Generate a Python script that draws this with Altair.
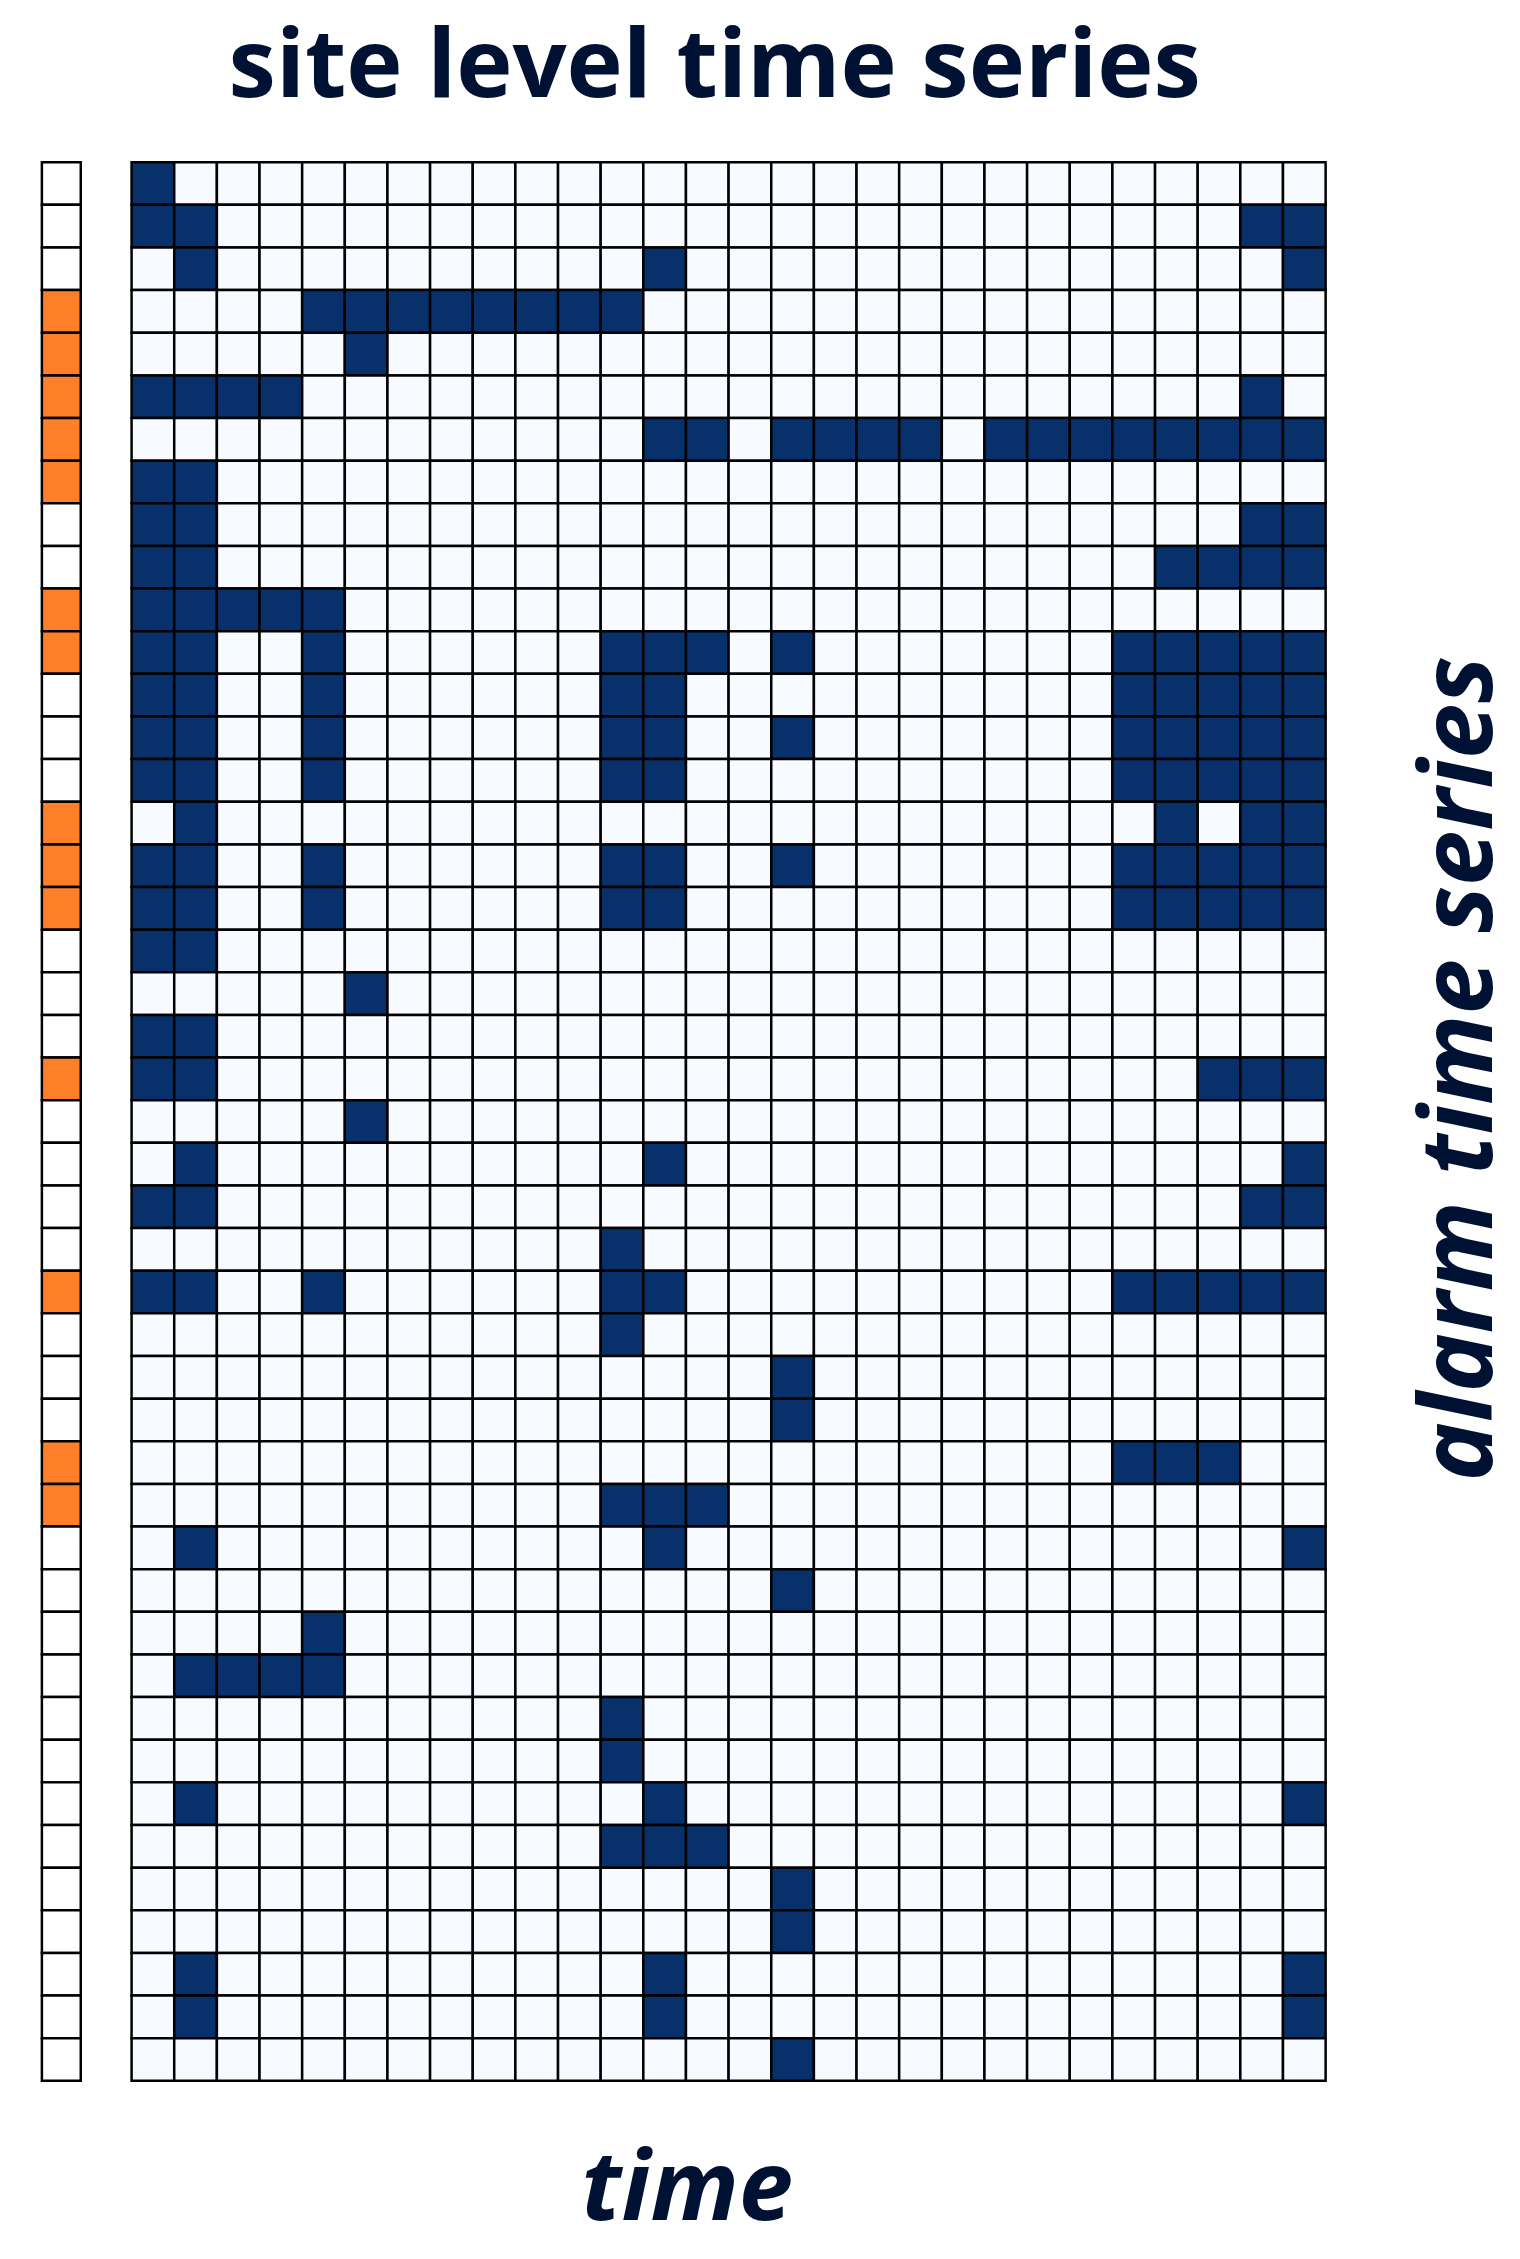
import altair as alt
import pandas as pd

N_ROWS = 45
N_COLS = 28

# active (dark) cells in each row of the site-level grid, by column index
ON_CELLS = [
    [0],
    [0, 1, 26, 27],
    [1, 12, 27],
    [4, 5, 6, 7, 8, 9, 10, 11],
    [5],
    [0, 1, 2, 3, 26],
    [12, 13, 15, 16, 17, 18, 20, 21, 22, 23, 24, 25, 26, 27],
    [0, 1],
    [0, 1, 26, 27],
    [0, 1, 24, 25, 26, 27],
    [0, 1, 2, 3, 4],
    [0, 1, 4, 11, 12, 13, 15, 23, 24, 25, 26, 27],
    [0, 1, 4, 11, 12, 23, 24, 25, 26, 27],
    [0, 1, 4, 11, 12, 15, 23, 24, 25, 26, 27],
    [0, 1, 4, 11, 12, 23, 24, 25, 26, 27],
    [1, 24, 26, 27],
    [0, 1, 4, 11, 12, 15, 23, 24, 25, 26, 27],
    [0, 1, 4, 11, 12, 23, 24, 25, 26, 27],
    [0, 1],
    [5],
    [0, 1],
    [0, 1, 25, 26, 27],
    [5],
    [1, 12, 27],
    [0, 1, 26, 27],
    [11],
    [0, 1, 4, 11, 12, 23, 24, 25, 26, 27],
    [11],
    [15],
    [15],
    [23, 24, 25],
    [11, 12, 13],
    [1, 12, 27],
    [15],
    [4],
    [1, 2, 3, 4],
    [11],
    [11],
    [1, 12, 27],
    [11, 12, 13],
    [15],
    [15],
    [1, 12, 27],
    [1, 12, 27],
    [15],
]

# rows flagged in the alarm time series
ALARM_ROWS = [3, 4, 5, 6, 7, 10, 11, 15, 16, 17, 21, 26, 30, 31]

TEXT_COLOR = "#001233"
FONT = "Open Sans"

grid_records = []
for r in range(N_ROWS):
    for c in range(N_COLS):
        grid_records.append({"row": r, "col": c, "on": 1 if c in ON_CELLS[r] else 0})
grid_df = pd.DataFrame(grid_records)

alarm_df = pd.DataFrame(
    {"row": list(range(N_ROWS)), "alarm": [1 if r in ALARM_ROWS else 0 for r in range(N_ROWS)]}
)

H = 1925

left = (
    alt.Chart(alarm_df)
    .mark_rect(stroke="black", strokeWidth=2.5)
    .encode(
        y=alt.Y("row:O", axis=None),
        color=alt.Color(
            "alarm:N",
            scale=alt.Scale(domain=[0, 1], range=["#ffffff", "#fd7f28"]),
            legend=None,
        ),
    )
    .properties(width=39, height=H)
)

main = (
    alt.Chart(grid_df)
    .mark_rect(stroke="black", strokeWidth=2.5)
    .encode(
        x=alt.X(
            "col:O",
            axis=alt.Axis(
                labels=False, ticks=False, domain=False, title="time",
                titleFont=FONT, titleFontSize=98, titleFontWeight="bold",
                titleFontStyle="italic", titleColor=TEXT_COLOR,
                titleX=557, titleY=139, titleAlign="center", titleBaseline="alphabetic",
            ),
        ),
        y=alt.Y(
            "row:O",
            axis=alt.Axis(
                orient="right", labels=False, ticks=False, domain=False,
                title="alarm time series",
                titleFont=FONT, titleFontSize=100, titleFontWeight="bold",
                titleFontStyle="italic", titleColor=TEXT_COLOR, titleAngle=270,
                titleX=166, titleY=909, titleAlign="center", titleBaseline="alphabetic",
            ),
        ),
        color=alt.Color(
            "on:N",
            scale=alt.Scale(domain=[0, 1], range=["#f7fbff", "#08306b"]),
            legend=None,
        ),
    )
    .properties(
        width=1198, height=H,
        title=alt.Title(
            "site level time series", font=FONT, fontSize=95.5, fontWeight="bold",
            color=TEXT_COLOR, anchor="middle", dx=-14, offset=44,
        ),
    )
)

chart = (
    alt.hconcat(left, main, spacing=47)
    .resolve_scale(color="independent")
    .properties(padding={"left": 32, "top": 8, "right": 0, "bottom": 0})
    .configure_view(strokeWidth=0)
    .configure(background="white")
)

chart.save("out.html", embed_options={"renderer": "svg", "actions": False})
